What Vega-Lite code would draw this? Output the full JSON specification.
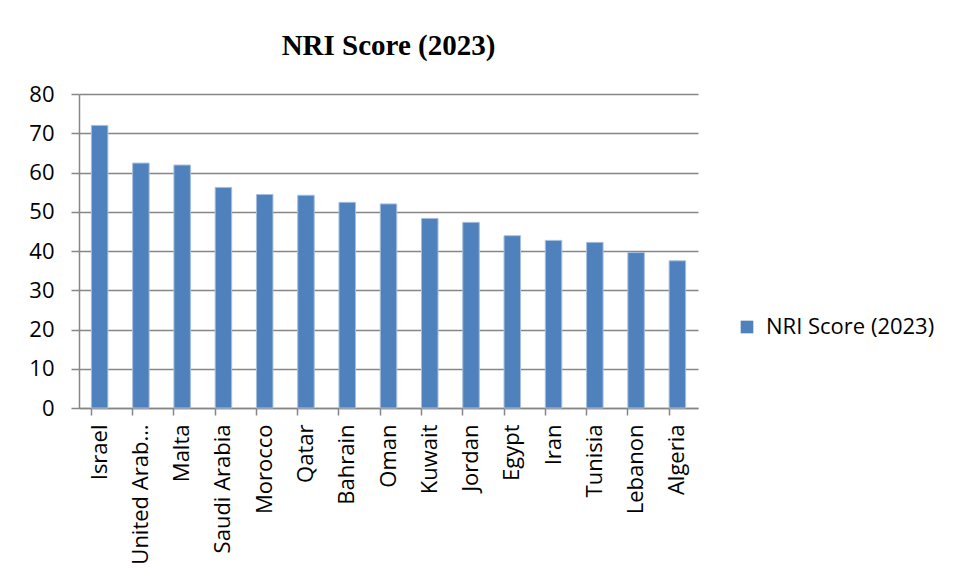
{
  "$schema": "https://vega.github.io/schema/vega-lite/v6.json",
  "width": 619,
  "height": 314,
  "autosize": {"type": "none"},
  "padding": {"left": 79, "top": 94, "right": 261, "bottom": 172},
  "background": "white",
  "title": {
    "text": "NRI Score (2023)",
    "font": "Liberation Serif",
    "fontSize": 29,
    "fontWeight": "bold",
    "color": "#000000",
    "anchor": "middle",
    "offset": 22
  },
  "data": {
    "values": [
      {"country": "Israel", "score": 72.0, "series": "NRI Score (2023)"},
      {"country": "United Arab Emirates", "score": 62.4, "series": "NRI Score (2023)"},
      {"country": "Malta", "score": 61.9, "series": "NRI Score (2023)"},
      {"country": "Saudi Arabia", "score": 56.2, "series": "NRI Score (2023)"},
      {"country": "Morocco", "score": 54.4, "series": "NRI Score (2023)"},
      {"country": "Qatar", "score": 54.2, "series": "NRI Score (2023)"},
      {"country": "Bahrain", "score": 52.4, "series": "NRI Score (2023)"},
      {"country": "Oman", "score": 52.0, "series": "NRI Score (2023)"},
      {"country": "Kuwait", "score": 48.3, "series": "NRI Score (2023)"},
      {"country": "Jordan", "score": 47.3, "series": "NRI Score (2023)"},
      {"country": "Egypt", "score": 43.9, "series": "NRI Score (2023)"},
      {"country": "Iran", "score": 42.7, "series": "NRI Score (2023)"},
      {"country": "Tunisia", "score": 42.2, "series": "NRI Score (2023)"},
      {"country": "Lebanon", "score": 39.6, "series": "NRI Score (2023)"},
      {"country": "Algeria", "score": 37.5, "series": "NRI Score (2023)"}
    ]
  },
  "mark": {"type": "bar", "stroke": "#A7BFDE", "strokeWidth": 1},
  "encoding": {
    "x": {
      "field": "country",
      "type": "nominal",
      "sort": null,
      "title": null,
      "scale": {"paddingInner": 0.6, "paddingOuter": 0.3},
      "axis": {
        "labelAngle": -90,
        "labelAlign": "right",
        "labelBaseline": "middle",
        "labelFont": "Open Sans",
        "labelFontSize": 22,
        "labelColor": "#000000",
        "labelPadding": 9,
        "labelLimit": 300,
        "labelExpr": "datum.label == 'United Arab Emirates' ? 'United Arab…' : datum.label",
        "bandPosition": 0,
        "ticks": true,
        "tickSize": 7,
        "tickColor": "#868686",
        "tickWidth": 1.5,
        "domainColor": "#868686",
        "domainWidth": 1.5,
        "grid": false
      }
    },
    "y": {
      "field": "score",
      "type": "quantitative",
      "title": null,
      "scale": {"domain": [0, 80], "nice": false},
      "axis": {
        "values": [0, 10, 20, 30, 40, 50, 60, 70, 80],
        "labelFont": "Open Sans",
        "labelFontSize": 22,
        "labelColor": "#000000",
        "labelPadding": 17,
        "tickSize": 8,
        "tickColor": "#868686",
        "tickWidth": 1.5,
        "domainColor": "#868686",
        "domainWidth": 1.5,
        "grid": true,
        "gridColor": "#868686",
        "gridWidth": 1.5
      }
    },
    "color": {
      "field": "series",
      "type": "nominal",
      "scale": {"range": ["#4F81BD"]},
      "legend": {
        "title": null,
        "orient": "none",
        "legendX": 657,
        "legendY": 222,
        "symbolType": "square",
        "symbolSize": 160,
        "symbolStrokeWidth": 0,
        "labelFont": "Open Sans",
        "labelFontSize": 22,
        "labelLimit": 300,
        "labelColor": "#000000",
        "labelOffset": 8
      }
    }
  },
  "config": {
    "view": {"stroke": null}
  }
}
